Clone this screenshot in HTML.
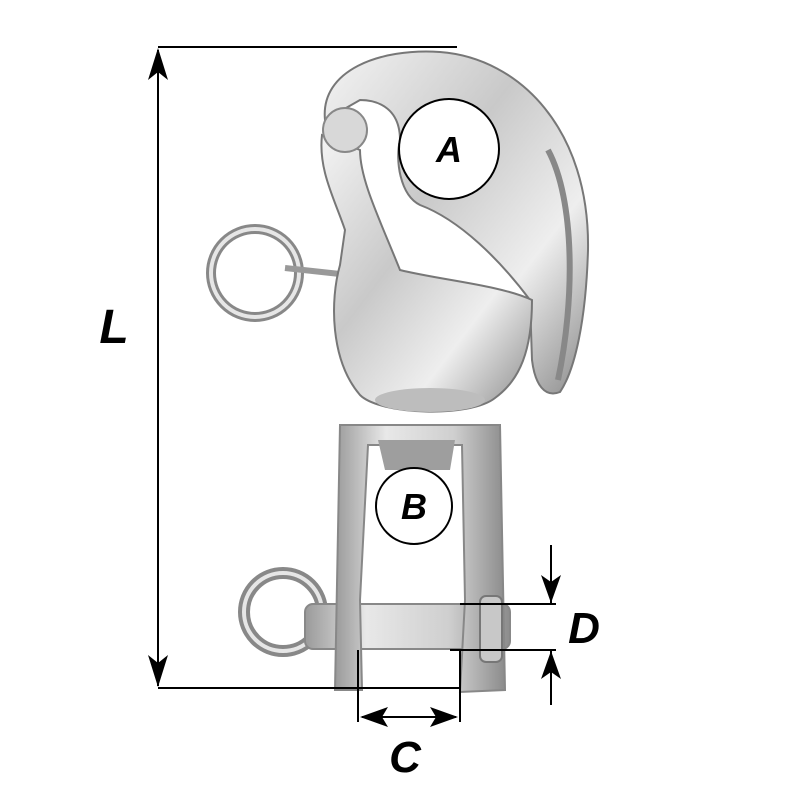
<!DOCTYPE html>
<html><head><meta charset="utf-8"><style>
html,body{margin:0;padding:0;background:#fff;width:800px;height:800px;overflow:hidden}
text{font-family:"Liberation Sans",sans-serif;font-weight:bold;font-style:italic;fill:#000}
</style></head><body>
<svg width="800" height="800" viewBox="0 0 800 800" xmlns="http://www.w3.org/2000/svg">
<defs>
<linearGradient id="m" x1="0" y1="0" x2="1" y2="1">
<stop offset="0" stop-color="#f4f4f4"/><stop offset="0.4" stop-color="#c9c9c9"/><stop offset="0.7" stop-color="#eeeeee"/><stop offset="1" stop-color="#8a8a8a"/>
</linearGradient>
<linearGradient id="v" x1="0" y1="0" x2="1" y2="0">
<stop offset="0" stop-color="#9a9a9a"/><stop offset="0.3" stop-color="#e8e8e8"/><stop offset="0.7" stop-color="#cfcfcf"/><stop offset="1" stop-color="#8c8c8c"/>
</linearGradient>
</defs>
<!-- rings -->
<circle cx="255" cy="273" r="44" fill="none" stroke="#888" stroke-width="10"/>
<circle cx="255" cy="273" r="44" fill="none" stroke="#e6e6e6" stroke-width="4"/>
<circle cx="283" cy="612" r="39" fill="none" stroke="#888" stroke-width="12"/>
<circle cx="283" cy="612" r="39" fill="none" stroke="#e6e6e6" stroke-width="4"/>
<path d="M285 268 L340 274" stroke="#999" stroke-width="6"/>
<!-- hook -->
<path d="M325 120 C320 70 380 48 440 52 C520 58 590 130 588 250 C586 320 575 370 560 392 C545 398 535 385 532 360 L530 300 C500 260 460 220 420 205 C400 195 395 160 400 140 C400 110 380 100 360 100 Z" fill="url(#m)" stroke="#777" stroke-width="2"/>
<path d="M548 150 C575 200 575 300 558 380" fill="none" stroke="#888" stroke-width="6"/>
<!-- body -->
<path d="M322 135 C318 170 335 200 345 230 L340 265 C330 300 330 360 360 395 C380 415 470 418 495 398 C520 380 532 350 532 300 C500 285 440 280 400 270 C380 220 360 180 360 150 Z" fill="url(#m)" stroke="#777" stroke-width="2"/>
<circle cx="345" cy="130" r="22" fill="#d8d8d8" stroke="#888" stroke-width="2"/>
<ellipse cx="430" cy="400" rx="55" ry="12" fill="#bdbdbd"/>
<!-- pin -->
<rect x="305" y="604" width="205" height="45" rx="8" fill="url(#v)" stroke="#888" stroke-width="2"/>
<!-- swivel frame -->
<path d="M340 425 L500 425 L505 690 L460 692 L465 600 L462 445 L368 445 L360 600 L362 690 L335 690 Z" fill="url(#v)" stroke="#888" stroke-width="2"/>
<path d="M378 440 L455 440 L450 470 L385 470 Z" fill="#9e9e9e"/>
<rect x="480" y="596" width="22" height="66" rx="6" fill="#c8c8c8" stroke="#777" stroke-width="2"/>
<!-- circles A, B -->
<circle cx="449" cy="149" r="50" fill="#fff" stroke="#000" stroke-width="2"/>
<text x="449" y="162" font-size="36" text-anchor="middle">A</text>
<circle cx="414" cy="506" r="38" fill="#fff" stroke="#000" stroke-width="2"/>
<text x="414" y="519" font-size="36" text-anchor="middle">B</text>
<g stroke="#000" stroke-width="2" fill="none">
<line x1="158" y1="47" x2="457" y2="47"/>
<line x1="158" y1="688" x2="460" y2="688"/>
<line x1="158" y1="50" x2="158" y2="686"/>
<line x1="358" y1="650" x2="358" y2="722"/>
<line x1="460" y1="650" x2="460" y2="722"/>
<line x1="362" y1="717" x2="456" y2="717"/>
<line x1="460" y1="604" x2="556" y2="604"/>
<line x1="450" y1="650" x2="556" y2="650"/>
<line x1="551" y1="545" x2="551" y2="604"/>
<line x1="551" y1="650" x2="551" y2="705"/>
</g>
<g fill="#000">
<path d="M158 48 L148 80 L158 72 L168 80 Z"/>
<path d="M158 687 L148 655 L158 663 L168 655 Z"/>
<path d="M360 717 L388 707 L382 717 L388 727 Z"/>
<path d="M458 717 L430 707 L436 717 L430 727 Z"/>
<path d="M551 603 L541 575 L551 582 L561 575 Z"/>
<path d="M551 651 L541 679 L551 672 L561 679 Z"/>
</g>
<text x="114" y="343" font-size="48" text-anchor="middle">L</text>
<text x="405" y="772" font-size="44" text-anchor="middle">C</text>
<text x="584" y="643" font-size="44" text-anchor="middle">D</text>
</svg>
</body></html>
